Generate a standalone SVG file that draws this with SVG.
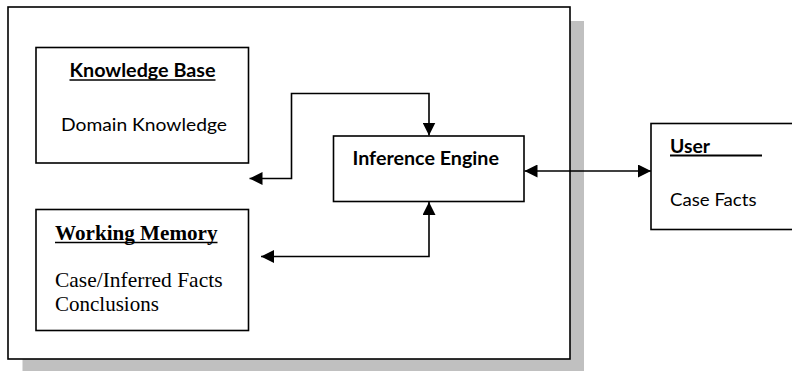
<svg xmlns="http://www.w3.org/2000/svg" width="792" height="371" viewBox="0 0 792 371">
  <style>
    .box { fill: #ffffff; stroke: #000000; stroke-width: 1.6; }
    .wire { fill: none; stroke: #000000; stroke-width: 1.6; }
    .sans { font-family: Lato, "Liberation Sans", sans-serif; font-size: 18px; fill: #000000; }
    .sansb { font-family: Lato, "Liberation Sans", sans-serif; font-size: 18px; font-weight: bold; fill: #000000; }
    .serif { font-family: "Liberation Serif", serif; font-size: 21px; fill: #000000; }
    .serifb { font-family: "Liberation Serif", serif; font-size: 21px; font-weight: bold; fill: #000000; }
    .ul { stroke: #000000; stroke-width: 1.6; }
  </style>
  <defs>
    <marker id="arrow" viewBox="0 0 13 13" refX="13" refY="6.5" markerWidth="13" markerHeight="13" markerUnits="userSpaceOnUse" orient="auto-start-reverse">
      <path d="M0,0 L13,6.5 L0,13 Z" fill="#000000"/>
    </marker>
  </defs>

  <!-- system boundary with drop shadow -->
  <g id="system">
    <rect x="22.5" y="21" width="561.5" height="350" fill="#c0c0c0"/>
    <rect class="box" x="8" y="7" width="562" height="352" stroke-width="2"/>
  </g>

  <g id="knowledge-base">
    <rect class="box" x="36" y="47.5" width="212.5" height="115.5"/>
    <text class="sansb" x="142.5" y="77" text-anchor="middle" textLength="146" lengthAdjust="spacingAndGlyphs">Knowledge Base</text>
    <line class="ul" x1="69.5" y1="80" x2="215.5" y2="80"/>
    <text class="sans" x="144" y="130.5" text-anchor="middle" textLength="166" lengthAdjust="spacingAndGlyphs">Domain Knowledge</text>
  </g>

  <g id="working-memory">
    <rect class="box" x="36" y="209.5" width="212.5" height="121"/>
    <text class="serifb" x="55" y="239.5" textLength="162.5" lengthAdjust="spacingAndGlyphs">Working Memory</text>
    <line class="ul" x1="55" y1="242.5" x2="217.5" y2="242.5"/>
    <text class="serif" x="55" y="286.5" textLength="167.5" lengthAdjust="spacingAndGlyphs">Case/Inferred Facts</text>
    <text class="serif" x="55" y="310.5">Conclusions</text>
  </g>

  <g id="inference-engine">
    <rect class="box" x="333.5" y="136" width="190.5" height="65.5"/>
    <text class="sansb" x="352.5" y="165" textLength="146.5" lengthAdjust="spacingAndGlyphs">Inference Engine</text>
  </g>

  <g id="user">
    <rect class="box" x="651" y="123.5" width="150" height="106"/>
    <text class="sansb" x="670" y="152.5" textLength="40" lengthAdjust="spacingAndGlyphs">User</text>
    <line x1="670" y1="155.5" x2="762" y2="155.5" stroke="#000000" stroke-width="2.2"/>
    <text class="sans" x="670" y="205.5" textLength="86.5" lengthAdjust="spacingAndGlyphs">Case Facts</text>
  </g>

  <g id="connectors">
    <polyline class="wire" points="249.5,178.5 291.5,178.5 291.5,93.5 429,93.5 429,135.5" marker-start="url(#arrow)" marker-end="url(#arrow)"/>
    <polyline class="wire" points="261,256.5 429,256.5 429,202" marker-start="url(#arrow)" marker-end="url(#arrow)"/>
    <line class="wire" x1="524.5" y1="171" x2="651" y2="171" marker-start="url(#arrow)" marker-end="url(#arrow)"/>
  </g>
</svg>
